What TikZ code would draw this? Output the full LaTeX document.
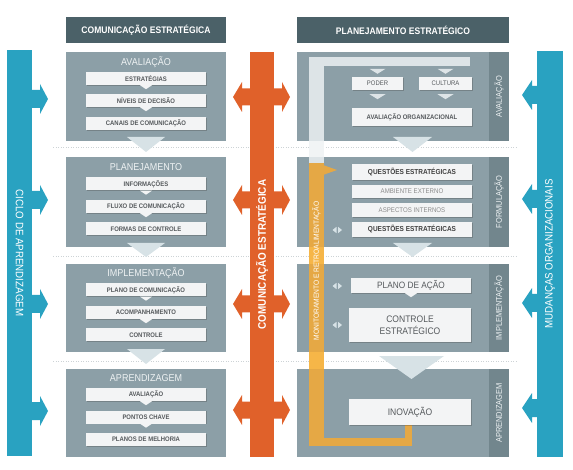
\documentclass[tikz,border=0pt]{standalone}
\usepackage{fontspec}
\setmainfont{Liberation Sans}[FakeStretch=0.9]
\usetikzlibrary{calc,positioning,shadows,math}
\definecolor{myhead}{RGB}{75,97,104}
\definecolor{mypanel}{RGB}{140,159,167}
\definecolor{mystrip}{RGB}{114,134,141}
\definecolor{mybox}{RGB}{243,244,245}
\definecolor{mytext}{RGB}{85,89,92}
\definecolor{mytitle}{RGB}{238,242,243}
\definecolor{mypale}{RGB}{215,226,230}
\definecolor{myblue}{RGB}{41,162,193}
\definecolor{myorange}{RGB}{224,97,42}
\definecolor{myyel}{RGB}{229,168,69}
\definecolor{myyellight}{RGB}{246,182,72}
\definecolor{myband}{RGB}{221,228,231}
\definecolor{mydash}{RGB}{205,211,214}

\begin{document}
\begin{tikzpicture}[x=1pt,y=-1pt,
  header/.style={fill=myhead, text=white, minimum height=26pt, inner sep=0pt,
    font=\bfseries\fontsize{9.5}{10}\selectfont},
  panel/.style={fill=mypanel, inner sep=0pt},
  strip/.style={fill=mystrip, inner sep=0pt, minimum width=20pt},
  ptitle/.style={text=mytitle, font=\fontsize{10}{11}\selectfont},
  item/.style={fill=mybox, text=mytext, inner sep=0pt, minimum width=120pt, minimum height=13pt,
    font=\bfseries\fontsize{6.6}{7}\selectfont,
    drop shadow={shadow xshift=0.5pt, shadow yshift=-0.7pt, opacity=0.35, fill=black!70}},
  sidetext/.style={rotate=90, text=mytitle, font=\fontsize{8.3}{9}\selectfont},
  bartext/.style={text=white, font=\fontsize{10.8}{11}\selectfont},
  notch/.style={fill=mybox},
  gap/.style={fill=mypale},
  lrmark/.style={fill=mypale}
]
\useasboundingbox (0,0) rectangle (573,470);

 % separadores
 \foreach \yy in {147,256,361}
   \draw[mydash, line width=0.6pt, dash pattern=on 1pt off 1.5pt] (53,\yy) -- (517,\yy);

 % barras azuis
 \node[fill=myblue, minimum width=25pt, minimum height=406pt, inner sep=0pt] (ciclo) at (19.5,253) {};
 \node[fill=myblue, minimum width=26pt, minimum height=406pt, inner sep=0pt] (mudanca) at (550,254) {};
 \foreach \yy in {99,200,304,411}
   \fill[myblue] (32,\yy-9) -- (40,\yy-9) -- (40,\yy-15) -- (48,\yy) -- (40,\yy+15) -- (40,\yy+9) -- (32,\yy+9) -- cycle;
 \foreach \yy in {95,199,303,408}
   \fill[myblue] (537,\yy-9) -- (532,\yy-9) -- (532,\yy-15) -- (522,\yy) -- (532,\yy+15) -- (532,\yy+9) -- (537,\yy+9) -- cycle;

 % cabecalhos
 \node[header, minimum width=160pt] (hcom) at (146,30) {COMUNICAÇÃO ESTRATÉGICA};
 \node[header, minimum width=212pt] (hplan) at (403,30) {PLANEJAMENTO ESTRATÉGICO};

 % paineis da esquerda
 \node[panel, minimum width=160pt, minimum height=89pt] (lav) at (146,96.5) {};
 \node[panel, minimum width=160pt, minimum height=90pt] (lpl) at (146,202) {};
 \node[panel, minimum width=160pt, minimum height=88pt] (lim) at (146,308) {};
 \node[panel, minimum width=160pt, minimum height=88pt] (lap) at (146,413) {};

 % paineis da direita
 \node[panel, minimum width=212pt, minimum height=89pt] (rav) at (403,96.5) {};
 \node[panel, minimum width=212pt, minimum height=90pt] (rfo) at (403,202) {};
 \node[panel, minimum width=212pt, minimum height=88pt] (rim) at (403,308) {};
 \node[panel, minimum width=212pt, minimum height=88pt] (rap) at (403,413) {};
 \node[strip, minimum height=89pt, anchor=east] (sav) at (rav.east) {};
 \node[strip, minimum height=90pt, anchor=east] (sfo) at (rfo.east) {};
 \node[strip, minimum height=88pt, anchor=east] (sim) at (rim.east) {};
 \node[strip, minimum height=88pt, anchor=east] (sap) at (rap.east) {};

 % faixa de monitoramento
 \fill[myband] (309,57) rectangle (470,66);
 \fill[myband] (309,57) rectangle (324,163);
 \fill[white!60!myband] (309,141) rectangle (324,157);
 \fill[myyel] (309,163) rectangle (324,446);
 \fill[myyel] (309,438) rectangle (412,446);
 \fill[myyel] (405,425) rectangle (412,446);
 \fill[myyellight] (309,247) rectangle (324,264);
 \fill[myyellight] (309,352) rectangle (324,369);
 \fill[myyel] (323,165) -- (337,170) -- (323,175) -- cycle;

 % setas entre etapas
 \fill[gap] (127,137) -- (165,137) -- (146,152) -- cycle;
 \fill[gap] (127,243) -- (165,243) -- (146,257) -- cycle;
 \fill[gap] (127,349) -- (165,349) -- (146,364) -- cycle;
 \fill[gap] (393,137) -- (432,137) -- (412.5,152) -- cycle;
 \fill[gap] (393,243) -- (432,243) -- (412.5,257) -- cycle;
 \fill[gap] (379,356) -- (444,356) -- (411.5,379) -- cycle;

 % titulos
 \node[ptitle] (tav) at (146,62) {AVALIAÇÃO};
 \node[ptitle] (tpl) at (146,167) {PLANEJAMENTO};
 \node[ptitle] (tim) at (146,273) {IMPLEMENTAÇÃO};
 \node[ptitle] (tap) at (146,378.5) {APRENDIZAGEM};

 % itens da esquerda
 \node[item] (la1) at (146,78.5) {ESTRATÉGIAS};
 \node[item] (la2) at (146,100.5) {NÍVEIS DE DECISÃO};
 \node[item] (la3) at (146,123.5) {CANAIS DE COMUNICAÇÃO};
 \node[item] (lp1) at (146,184) {INFORMAÇÕES};
 \node[item] (lp2) at (146,206.5) {FLUXO DE COMUNICAÇÃO};
 \node[item] (lp3) at (146,229) {FORMAS DE CONTROLE};
 \node[item] (li1) at (146,290) {PLANO DE COMUNICAÇÃO};
 \node[item] (li2) at (146,312.5) {ACOMPANHAMENTO};
 \node[item] (li3) at (146,335) {CONTROLE};
 \node[item] (lq1) at (146,394.5) {AVALIAÇÃO};
 \node[item] (lq2) at (146,417) {PONTOS CHAVE};
 \node[item] (lq3) at (146,439.5) {PLANOS DE MELHORIA};
 \foreach \n in {la1,la2,lp1,lp2,li1,li2,lq1,lq2}
   \fill[notch] ($(\n.south)+(-6,0)$) -- ($(\n.south)+(6,0)$) -- ($(\n.south)+(0,4)$) -- cycle;

 % itens da direita
 \node[item, minimum width=51pt, font=\fontsize{6.6}{7}\selectfont] (poder) at (377.5,83.5) {PODER};
 \node[item, minimum width=53pt, font=\fontsize{6.6}{7}\selectfont] (cultura) at (445.5,83.5) {CULTURA};
 \foreach \n in {poder,cultura} {
   \fill[myband] ($(\n.north)+(-8,-8)$) -- ($(\n.north)+(8,-8)$) -- ($(\n.north)+(0,-3)$) -- cycle;
   \fill[myband] ($(\n.south)+(-8,4)$) -- ($(\n.south)+(8,4)$) -- ($(\n.south)+(0,9)$) -- cycle;
 }
 \node[item, minimum height=18pt] (avorg) at (412,117) {AVALIAÇÃO ORGANIZACIONAL};
 \node[item, minimum height=16pt, text=black!75, font=\bfseries\fontsize{7.2}{8}\selectfont] (qe1) at (412,172) {QUESTÕES ESTRATÉGICAS};
 \node[item, text=black!45, font=\fontsize{6.8}{7}\selectfont] (amb) at (412,191.5) {AMBIENTE EXTERNO};
 \node[item, minimum height=14pt, text=black!45, font=\fontsize{6.8}{7}\selectfont] (asp) at (412,210) {ASPECTOS INTERNOS};
 \node[item, minimum height=15pt, text=black!75, font=\bfseries\fontsize{7.2}{8}\selectfont] (qe2) at (412,229.5) {QUESTÕES ESTRATÉGICAS};
 \node[item, minimum height=15pt, font=\fontsize{9.2}{10}\selectfont] (acao) at (411,285.5) {PLANO DE AÇÃO};
 \fill[notch] ($(acao.south)+(-6,0)$) -- ($(acao.south)+(6,0)$) -- ($(acao.south)+(0,4)$) -- cycle;
 \node[item, minimum width=122pt, minimum height=34pt, align=center, font=\fontsize{9.5}{11.5}\selectfont] (cest) at (410,325) {CONTROLE\\ESTRATÉGICO};
 \node[item, minimum width=122pt, minimum height=26pt, font=\fontsize{9.5}{10}\selectfont] (inov) at (410,412) {INOVAÇÃO};

 % marcas de ida e volta
 \foreach \yy in {230,286,325} {
   \fill[lrmark] (336.5,\yy-3.2) -- (336.5,\yy+3.2) -- (332.5,\yy) -- cycle;
   \fill[lrmark] (338,\yy-3.2) -- (338,\yy+3.2) -- (342,\yy) -- cycle;
 }

 % textos laterais
 \node[sidetext] (xav) at (sav.center) {AVALIAÇÃO};
 \node[sidetext] (xfo) at (sfo.center) {FORMULAÇÃO};
 \node[sidetext] (xim) at (sim.center) {IMPLEMENTAÇÃO};
 \node[sidetext] (xap) at (sap.center) {APRENDIZAGEM};
 \node[rotate=90, text=white, font=\fontsize{7.4}{8}\selectfont] (mon) at (316.5,271) {MONITORAMENTO E RETROALIMENTAÇÃO};

 % barra laranja
 \node[fill=myorange, minimum width=24pt, minimum height=405pt, inner sep=0pt] (comest) at (262,254.5) {};
 \foreach \yy in {97,200,304,410} {
   \fill[myorange] (250,\yy-8.5) -- (242,\yy-8.5) -- (242,\yy-15) -- (233,\yy) -- (242,\yy+15) -- (242,\yy+8.5) -- (250,\yy+8.5) -- cycle;
   \fill[myorange] (274,\yy-8.5) -- (282,\yy-8.5) -- (282,\yy-15) -- (290,\yy) -- (282,\yy+15) -- (282,\yy+8.5) -- (274,\yy+8.5) -- cycle;
 }
 \node[rotate=90, text=white, font=\bfseries\fontsize{11}{12}\selectfont] (comestT) at (comest.center) {COMUNICAÇÃO ESTRATÉGICA};
 \node[rotate=-90, bartext] (cicloT) at (ciclo.center) {CICLO DE APRENDIZAGEM};
 \node[rotate=90, bartext] (mudancaT) at (mudanca.center) {MUDANÇAS ORGANIZACIONAIS};
\end{tikzpicture}
\end{document}
